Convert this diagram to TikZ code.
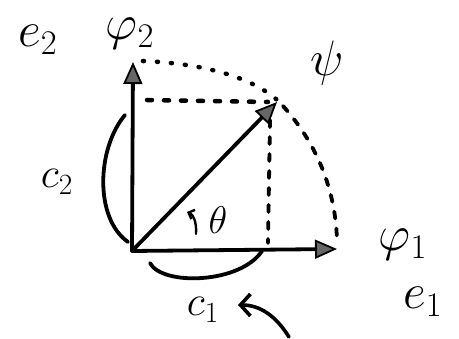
\documentclass[tikz,border=0pt]{standalone}
\usetikzlibrary{arrows.meta}
\begin{document}
\begin{tikzpicture}[x=1pt,y=-1pt,line cap=round,line join=round,
  vec/.style={line width=3.8pt,-{Triangle[length=22pt,width=19pt,fill=black!60,line width=1.8pt]}},
  brace/.style={line width=3.8pt},
  dotline/.style={line width=4.5pt,dash pattern=on 1pt off 13pt},
  dashline/.style={line width=3.8pt,dash pattern=on 7pt off 10pt},
  big/.style={inner sep=0pt,font=\Huge,scale=2.0},
  mid/.style={inner sep=0pt,font=\Huge,scale=1.7},
  small/.style={inner sep=0pt,font=\Huge,scale=1.55}]
\useasboundingbox (0,0) rectangle (459,339);
\coordinate (O) at (132,251);
\coordinate (T2) at (133,62);
\coordinate (T1) at (337,249);
\coordinate (TP) at (277,102);
\coordinate (A0) at (143,61);
\coordinate (A1) at (283,106);
\coordinate (A2) at (337,240);
\coordinate (H0) at (147,100);
\coordinate (H1) at (268,102);
\coordinate (V0) at (270,120);
\coordinate (V1) at (268,243);
% dotted guides
\draw[dotline] (A0) .. controls (220,64) and (265,85) .. (A1);
\draw[dashline] (A1) .. controls (310,136) and (335,180) .. (A2);
\draw[dotline,dash pattern=on 5pt off 12pt] (H0) -- (H1);
\draw[dashline] (V0) -- (V1);
% vectors
\draw[vec] (O) -- (T2);
\draw[vec] (O) -- (T1);
\draw[vec] (O) -- (TP);
% braces
\coordinate (B20) at (125,115);
\coordinate (B21) at (128,242);
\draw[brace] (B20) .. controls (97,148) and (94,218) .. (B21);
\coordinate (B10) at (150,263);
\coordinate (B11) at (262,251);
\draw[brace] (B10) .. controls (162,286) and (240,284) .. (B11);
% theta arrow
\coordinate (th0) at (196,234);
\coordinate (th1) at (187,212);
\draw[line width=2.4pt,-{Straight Barb[length=5pt,width=10pt]}] (th0) .. controls (197,220) and (192,214) .. (th1);
% big curved arrow
\coordinate (C0) at (289,337);
\coordinate (C1) at (238,305);
\draw[line width=3.6pt,-{Straight Barb[length=10pt,width=22pt,line width=3.6pt]}] (C0) .. controls (276,316) and (260,305) .. (C1);
% labels
\node[big] (e2) at (38,40) {$e_{\scriptscriptstyle 2}$};
\node[big] (phi2) at (130,34) {$\varphi_{\scriptscriptstyle 2}$};
\node[big] (psi) at (327,63) {$\psi$};
\node[big] (phi1) at (403,245) {$\varphi_{\scriptscriptstyle 1}$};
\node[big] (e1) at (423,302) {$e_{\scriptscriptstyle 1}$};
\node[mid] (c2) at (57,182) {$c_{\scriptscriptstyle 2}$};
\node[mid] (c1) at (203,310) {$c_{\scriptscriptstyle 1}$};
\node[small] (th) at (218,220) {$\theta$};
\end{tikzpicture}
\end{document}
